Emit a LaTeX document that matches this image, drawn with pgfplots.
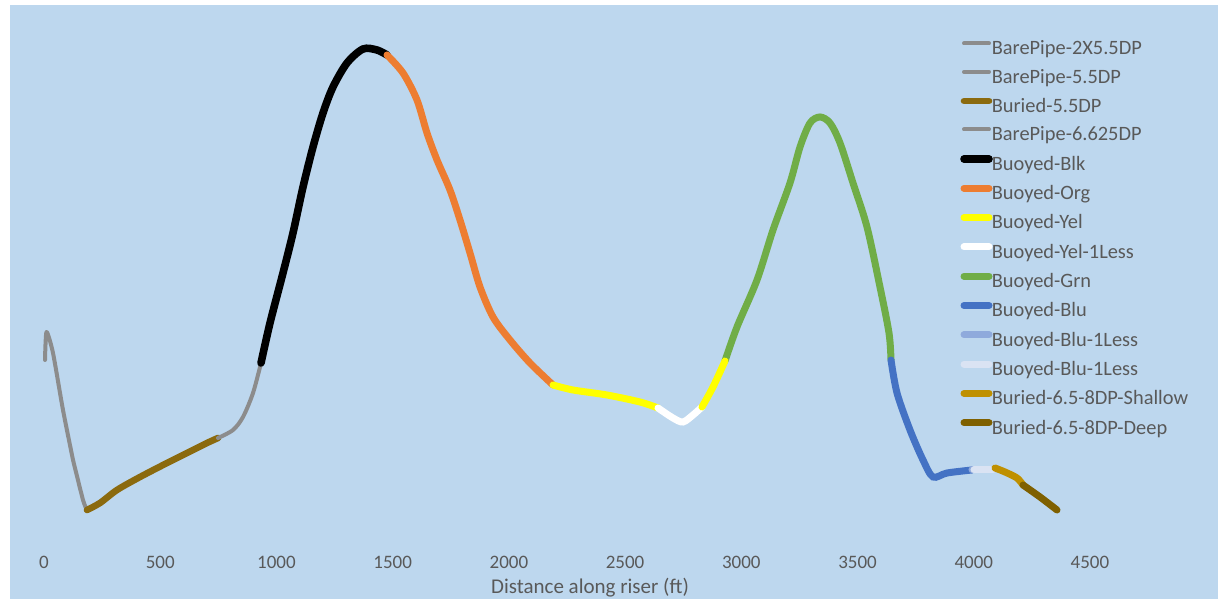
\documentclass[border=0pt]{standalone}
\usepackage{fontspec}
\setmainfont{Carlito}
\usepackage{pgfplots}
\pgfplotsset{compat=1.18}
\definecolor{bg}{HTML}{BDD7EE}
\definecolor{txt}{HTML}{595959}
\definecolor{gry}{HTML}{8C8C8C}
\definecolor{bur}{HTML}{8B6A0E}
\definecolor{org}{HTML}{ED7D31}
\definecolor{yel}{HTML}{FFFF00}
\definecolor{grn}{HTML}{70AD47}
\definecolor{blu}{HTML}{4472C4}
\definecolor{blul}{HTML}{8FAADC}
\definecolor{blull}{HTML}{DAE3F3}
\definecolor{sha}{HTML}{BF9000}
\definecolor{dee}{HTML}{7F6000}
\begin{document}
\begin{tikzpicture}
\fill[white] (0,0) rectangle (609bp,299.5bp);
\fill[bg] (5bp,0) rectangle (609bp,297bp);
\begin{axis}[
  at={(0,25.5bp)}, anchor=south west,
  scale only axis, width=609bp, height=271.5bp,
  xmin=-189.3, xmax=5050.8, ymin=51, ymax=594,
  axis line style={draw=none},
  ytick=\empty,
  xtick={0,500,...,4500},
  major tick length=0pt,
  /pgf/number format/assume math mode=true,
  /pgf/number format/1000 sep={},
  xticklabel style={font=\fontsize{9.5bp}{11bp}\selectfont, text=txt, anchor=north, inner sep=0pt, yshift=-4bp},
  xlabel={Distance along riser (ft)},
  xlabel style={at={(rel axis cs:0.4844,0)}, anchor=center, yshift=-20bp, font=\fontsize{10.5bp}{12bp}\selectfont, text=txt},
  legend style={at={(axis cs:3940,558.5)}, anchor=north west, draw=none, fill=none,
    font=\fontsize{10.2bp}{12bp}\selectfont, text=txt, inner sep=0pt, row sep=5.2bp, column sep=-0.5bp,
    nodes={inner sep=0pt, text height=7bp, text depth=2bp}},
  legend cell align=left,
  legend image code/.code={\draw[#1, line cap=round] (0bp,3.2bp) -- (12.5bp,3.2bp);},
  clip=false,
]
% BarePipe-2X5.5DP
\addplot[gry, line width=2bp, line cap=round, line join=round, smooth, tension=0.4] coordinates {
(4.3,239) (10.8,267) (38.7,246) (81.7,189) (124.8,139)};
\addlegendentry{BarePipe-2X5.5DP}
% BarePipe-5.5DP
\addplot[gry, line width=2bp, line cap=round, smooth, tension=0.4] coordinates {
(124.8,139) (167.8,99) (185.0,89)};
\addlegendentry{BarePipe-5.5DP}
% Buried-5.5DP
\addplot[bur, line width=3.3bp, line cap=round, smooth, tension=0.5] coordinates {
(185.0,89) (240.9,96) (314.1,109) (413.0,122) (529.2,136) (615.2,146) (701.3,156) (748.6,161)};
\addlegendentry{Buried-5.5DP}
% BarePipe-6.625DP
\addplot[gry, line width=2bp, line cap=round, smooth, tension=0.5] coordinates {
(748.6,161) (813.1,169) (856.1,182) (899.2,206) (933.6,236)};
\addlegendentry{BarePipe-6.625DP}
% Buoyed-Blk
\addplot[black, line width=3.8bp, line cap=round, smooth, tension=0.5] coordinates {
(933.6,236) (972.3,276) (1028.2,326) (1071.2,366) (1114.3,412) (1157.3,452) (1200.3,486) (1243.3,512) (1303.6,536) (1372.4,550) (1432.6,549) (1475.7,544)};
\addlegendentry{Buoyed-Blk}
% Buoyed-Org
\addplot[org, line width=3.5bp, line cap=round, smooth, tension=0.5] coordinates {
(1475.7,544) (1544.5,526) (1604.7,499) (1647.7,466) (1690.8,439) (1746.7,409) (1789.7,379) (1832.7,346) (1875.8,312) (1931.7,282) (2004.8,259) (2090.9,236) (2189.8,214)};
\addlegendentry{Buoyed-Org}
% Buoyed-Yel
\addplot[yel, line width=3.5bp, line cap=round, smooth, tension=0.5] coordinates {
(2189.8,214) (2275.9,209) (2422.1,204) (2564.1,197) (2641.6,191)};
\addlegendentry{Buoyed-Yel}
% Buoyed-Yel-1Less
\addplot[white, line width=3.5bp, line cap=round, smooth, tension=0.5] coordinates {
(2641.6,191) (2706.1,181) (2749.1,177) (2792.1,184) (2830.8,192)};
\addlegendentry{Buoyed-Yel-1Less}
% Buoyed-Grn
\addplot[grn, line width=3.5bp, line cap=round, smooth, tension=0.5] coordinates {
(2929.8,238) (2981.4,272) (3067.5,319) (3136.3,369) (3209.4,416) (3252.5,452) (3295.5,476) (3338.5,482) (3381.5,476) (3424.6,456) (3480.5,416) (3540.7,372) (3596.6,312) (3635.4,266) (3644.0,239)};
\addlegendentry{Buoyed-Grn}
% Buoyed-Blu
\addplot[blu, line width=3.5bp, line cap=round, smooth, tension=0.5] coordinates {
(3644.0,239) (3669.8,206) (3725.7,169) (3781.6,139) (3824.7,122) (3884.9,126) (3992.4,129)};
\addlegendentry{Buoyed-Blu}
% Buoyed-Blu-1Less
\addplot[blul, line width=3.5bp, line cap=round] coordinates {
(3992.4,129) (4001.0,129)};
\addlegendentry{Buoyed-Blu-1Less}
% Buoyed-Blu-1Less (light)
\addplot[blull, line width=3.5bp, line cap=round] coordinates {
(4001.0,129) (4082.8,129)};
\addlegendentry{Buoyed-Blu-1Less}
% Buried-6.5-8DP-Shallow
\addplot[sha, line width=3.5bp, line cap=round, smooth, tension=0.5] coordinates {
(4091.4,131) (4134.4,127) (4186.0,121) (4211.9,114)};
\addlegendentry{Buried-6.5-8DP-Shallow}
% Buried-6.5-8DP-Deep
\addplot[dee, line width=3.5bp, line cap=round, smooth, tension=0.5] coordinates {
(4211.9,114) (4285.0,102) (4358.1,89)};
\addlegendentry{Buried-6.5-8DP-Deep}
% Buoyed-Yel (second segment)
\addplot[yel, line width=3.5bp, line cap=round, smooth, tension=0.5, forget plot] coordinates {
(2830.8,192) (2878.2,212) (2929.8,238)};
\end{axis}
\end{tikzpicture}
\end{document}
